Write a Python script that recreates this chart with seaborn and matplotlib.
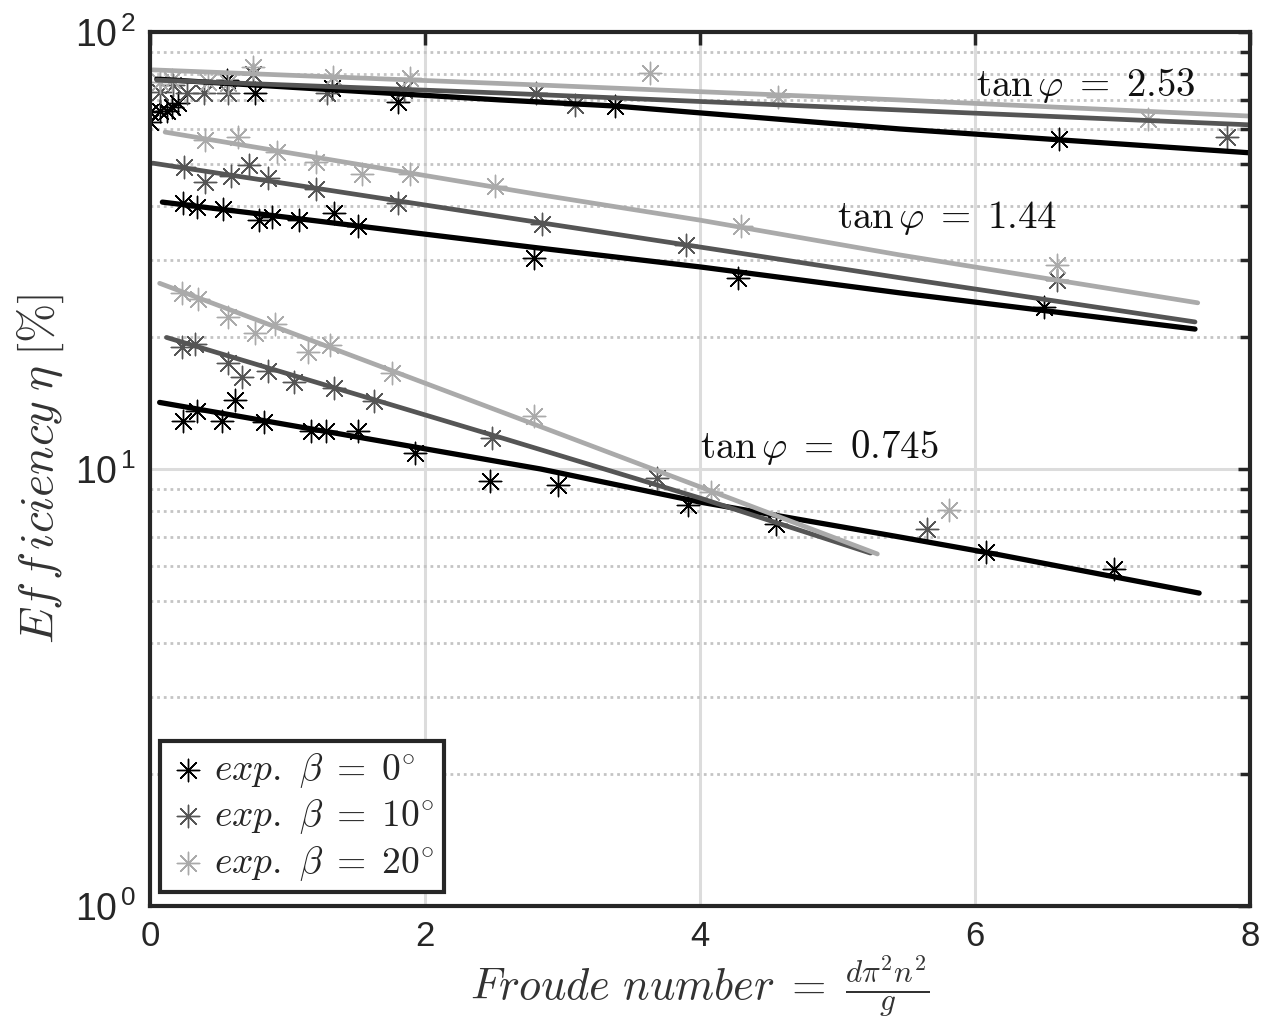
import numpy as np
import pandas as pd
import matplotlib
matplotlib.use("Agg")
import matplotlib.pyplot as plt
import matplotlib.ticker as mticker
import seaborn as sns

# measured points, beta = 0 deg (black)
x_b0_253 = [0.0, 0.0, 0.07, 0.12, 0.16, 0.2, 0.56, 0.76, 1.32, 1.80, 3.38, 6.61]
y_b0_253 = [65.6, 62.2, 65.9, 65.9, 67.3, 68.8, 77.6, 72.5, 74.5, 69.2, 67.7, 56.9]
x_b0_144 = [0.24, 0.34, 0.53, 0.79, 0.89, 1.08, 1.34, 1.51, 2.79, 4.28, 6.50]
y_b0_144 = [40.6, 39.8, 39.4, 37.1, 37.8, 37.1, 38.5, 36.0, 30.4, 27.4, 23.5]
x_b0_075 = [0.24, 0.34, 0.52, 0.62, 0.83, 1.17, 1.28, 1.51, 1.93, 2.47, 2.97, 3.91, 4.55, 6.08, 7.01]
y_b0_075 = [12.9, 13.6, 12.9, 14.4, 12.8, 12.2, 12.2, 12.2, 10.9, 9.39, 9.19, 8.27, 7.48, 6.46, 5.90]

# beta = 10 deg (dark grey)
x_b10_253 = [0.07, 0.17, 0.27, 0.39, 0.57, 0.75, 1.29, 1.85, 2.81, 3.09, 7.83]
y_b10_253 = [72.9, 75.6, 72.5, 72.5, 72.5, 80.1, 72.5, 73.6, 72.5, 68.1, 57.5]
x_b10_144 = [0.25, 0.40, 0.59, 0.72, 0.86, 1.21, 1.80, 2.85, 3.90, 6.60]
y_b10_144 = [49.1, 45.4, 46.8, 49.6, 46.3, 43.7, 40.6, 36.4, 32.6, 27.1]
x_b10_075 = [0.23, 0.33, 0.57, 0.67, 0.86, 1.05, 1.34, 1.63, 2.49, 3.69, 5.65]
y_b10_075 = [19.0, 19.3, 17.5, 16.2, 16.8, 15.8, 15.3, 14.3, 11.8, 9.54, 7.29]

# beta = 20 deg (light grey)
x_b20_253 = [0.07, 0.16, 0.42, 0.57, 0.75, 1.33, 1.89, 3.64, 4.57, 7.26]
y_b20_253 = [76.9, 77.6, 76.9, 76.4, 83.2, 78.9, 78.5, 80.5, 71.0, 63.2]
x_b20_144 = [0.40, 0.64, 0.92, 1.21, 1.54, 1.89, 2.51, 4.30, 6.60]
y_b20_144 = [56.6, 57.5, 53.1, 50.4, 47.3, 47.3, 44.4, 36.0, 29.3]
x_b20_075 = [0.23, 0.35, 0.57, 0.76, 0.91, 1.15, 1.31, 1.76, 2.79, 4.08, 5.81]
y_b20_075 = [25.3, 24.5, 22.3, 20.5, 21.5, 18.5, 19.2, 16.6, 13.2, 8.86, 8.06]

# fitted curves
fx_b0_253 = [0.05, 2.55, 3.38, 5.45, 8.0]
fy_b0_253 = [78.0, 69.9, 67.7, 60.0, 52.9]
fx_b10_253 = [0.05, 2.55, 5.45, 8.0]
fy_b10_253 = [77.6, 72.5, 66.3, 61.3]
fx_b20_253 = [0.02, 2.84, 5.45, 8.0]
fy_b20_253 = [81.9, 75.6, 69.9, 64.2]

fx_b0_144 = [0.09, 2.84, 4.0, 5.45, 7.6]
fy_b0_144 = [40.8, 32.0, 29.0, 25.3, 20.9]
fx_b10_144 = [0.02, 2.84, 4.0, 5.45, 7.6]
fy_b10_144 = [50.1, 36.6, 32.2, 27.4, 21.7]
fx_b20_144 = [0.11, 2.84, 4.0, 5.45, 7.62]
fy_b20_144 = [59.0, 42.4, 37.1, 30.9, 24.0]

fx_b0_075 = [0.07, 2.84, 4.0, 5.45, 6.18, 7.63]
fy_b0_075 = [14.2, 10.0, 8.40, 6.99, 6.36, 5.20]
fx_b10_075 = [0.12, 2.55, 4.0, 5.24]
fy_b10_075 = [20.0, 11.8, 8.58, 6.42]
fx_b20_075 = [0.07, 2.84, 4.0, 5.29]
fy_b20_075 = [26.6, 12.5, 9.10, 6.39]

tan_labels = [r"$\tan\varphi\;=\;2.53$", r"$\tan\varphi\;=\;1.44$", r"$\tan\varphi\;=\;0.745$"]
tan_x = [6.01, 5.0, 4.0]
tan_y = [75.6, 37.5, 11.2]

beta_labels = [r"$exp.\ \beta\;=\;0^{\circ}$", r"$exp.\ \beta\;=\;10^{\circ}$", r"$exp.\ \beta\;=\;20^{\circ}$"]
colors = ["#000000", "#555555", "#aaaaaa"]

sns.set_style("white")
plt.rcParams["font.family"] = ["Liberation Sans", "DejaVu Sans"]
plt.rcParams["mathtext.fontset"] = "cm"

fig = plt.figure(figsize=(12.68, 10.28), dpi=100)
ax = fig.add_axes([0.1183, 0.1187, 0.8675, 0.8502])

ax.set_yscale("log")
ax.set_xlim(0, 8)
ax.set_ylim(1, 100)

# grid
ax.set_yticks([1, 10, 100])
ax.yaxis.set_major_formatter(mticker.FuncFormatter(
    lambda v, p: r"$\mathdefault{10^{\,%d}}$" % int(round(np.log10(v)))))
ax.set_yticks([2, 3, 4, 5, 6, 7, 8, 9, 20, 30, 40, 50, 60, 70, 80, 90], minor=True)
ax.yaxis.set_minor_formatter(mticker.NullFormatter())
ax.grid(True, which="major", color="#dcdcdc", lw=2.2, ls="-")
ax.grid(True, which="minor", axis="y", color="#c4c4c4", lw=2.0, ls=(0, (1, 1.4)))
ax.set_axisbelow(True)

fits = [
    (fx_b0_253, fy_b0_253, 0), (fx_b10_253, fy_b10_253, 1), (fx_b20_253, fy_b20_253, 2),
    (fx_b0_144, fy_b0_144, 0), (fx_b10_144, fy_b10_144, 1), (fx_b20_144, fy_b20_144, 2),
    (fx_b0_075, fy_b0_075, 0), (fx_b10_075, fy_b10_075, 1), (fx_b20_075, fy_b20_075, 2),
]
for fx, fy, k in fits:
    sns.lineplot(x=fx, y=fy, color=colors[k], lw=[3.8, 3.4, 3.4][k], sort=False,
                 estimator=None, ax=ax, legend=False)

points = [
    (x_b0_253 + x_b0_144 + x_b0_075, y_b0_253 + y_b0_144 + y_b0_075),
    (x_b10_253 + x_b10_144 + x_b10_075, y_b10_253 + y_b10_144 + y_b10_075),
    (x_b20_253 + x_b20_144 + x_b20_075, y_b20_253 + y_b20_144 + y_b20_075),
]
for k, (px, py) in enumerate(points):
    df = pd.DataFrame({"x": px, "y": py})
    sns.scatterplot(data=df, x="x", y="y", marker=(8, 2, 0), s=260, color=colors[k],
                    linewidth=1.0, label=beta_labels[k], ax=ax)

for t, tx, ty in zip(tan_labels, tan_x, tan_y):
    ax.text(tx, ty, t, fontsize=28, va="center", ha="left", color="#111111")

# axes style
for sp in ax.spines.values():
    sp.set_linewidth(3.0)
    sp.set_color("#262626")
ax.set_xticks([0, 2, 4, 6, 8])
ax.tick_params(which="both", direction="in", top=True, right=True, width=2.5,
               colors="#262626", labelsize=25)
ax.tick_params(axis="y", labelsize=27)
ax.tick_params(which="major", length=9, pad=10)
ax.tick_params(which="minor", length=7)

ax.set_xlabel(r"$Froude\ number\;=\;\frac{d\pi^2 n^2}{g}$", fontsize=32, color="#333333", labelpad=0)
ax.set_ylabel(r"$Ef\,f\,iciency\;\eta\;[\%]$", fontsize=34, color="#333333", labelpad=6)

leg = ax.legend(loc="lower left", bbox_to_anchor=(0.009, 0.016), fontsize=27, frameon=True,
                fancybox=False, handletextpad=0.2, labelspacing=0.2, borderpad=0.25,
                handlelength=1.0, borderaxespad=0)
leg.get_frame().set_edgecolor("#262626")
leg.get_frame().set_linewidth(3.0)
leg.get_frame().set_alpha(1)

fig.savefig("out.png", dpi=100)
